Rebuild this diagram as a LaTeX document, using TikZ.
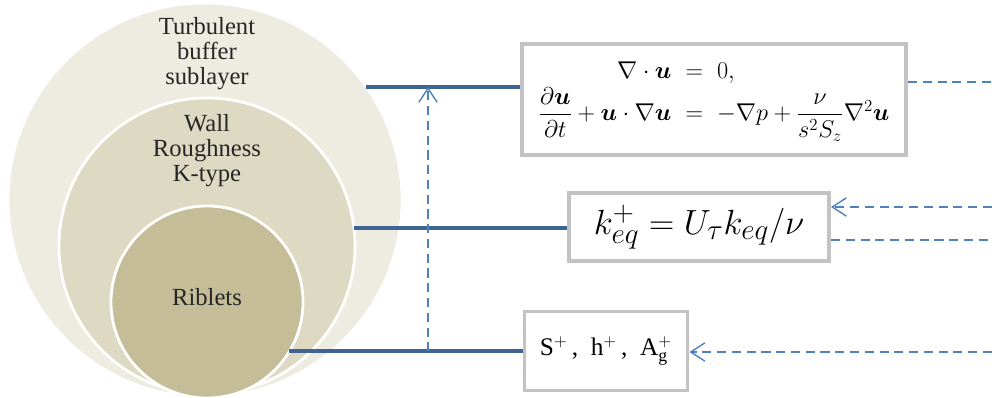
\documentclass[tikz,border=0pt]{standalone}
\usepackage{amsmath}
\usepackage{amssymb}
\usepackage{bm}
\usepackage{fontspec}
\newfontfamily\timesfont{Liberation Serif}
\usetikzlibrary{arrows.meta,positioning,calc}
\usepackage{xcolor}
\definecolor{layerA}{HTML}{EEECE1}
\definecolor{layerB}{HTML}{DDD9C3}
\definecolor{layerC}{HTML}{C4BD97}
\definecolor{linkblue}{HTML}{3E6494}
\definecolor{dashblue}{HTML}{4F81BD}
\definecolor{boxgray}{HTML}{C3C3C3}

\begin{document}
\begin{tikzpicture}[x=0.025cm,y=-0.025cm,
    layer/.style={circle,draw=white,line width=2pt,inner sep=0pt,outer sep=0pt},
    caption/.style={align=center,font=\timesfont\fontsize{17.5}{17.8}\selectfont,text=black!85},
    eqbox/.style={draw=boxgray,line width=2.8pt,fill=white,inner sep=0pt},
    link/.style={linkblue,line width=2.8pt},
    flow/.style={dashblue,line width=1pt,dash pattern=on 6.5pt off 4pt},
    tip/.style={-{Straight Barb[length=10pt,width=13pt]}}]
            \useasboundingbox (0,0) rectangle (992,397);

            % Nested layers
            \node[layer,fill=layerA,minimum size=9.85cm] (outer) at (205,200) {};
            \node[layer,fill=layerB,minimum size=7.4cm] (middle) at (207,246) {};
            \node[layer,fill=layerC,minimum size=4.8cm] (inner) at (207,302) {};

            % Layer names
            \node[caption] (buffer) at (207,54) {Turbulent\\buffer\\sublayer};
            \node[caption] (rough) at (207,151) {Wall\\Roughness\\K-type};
            \node[caption] (riblets) at (207,297) {Riblets};

            % Equation boxes
            \node[eqbox,minimum width=9.6cm,minimum height=2.775cm] (nse) at (714,99.5) {\fontsize{17.28}{21}\selectfont
                $\begin{array}{rcl}
                    \nabla\cdot\bm{u} & = & 0,\\
                    \dfrac{\partial\bm{u}}{\partial t}+\bm{u}\cdot\nabla\bm{u} & = & -\nabla p+\dfrac{\nu}{s^2S_z}\nabla^2\bm{u}
                \end{array}$};
            \node[eqbox,minimum width=6.5cm,minimum height=1.7cm] (keq) at (699,227) {\fontsize{24.88}{28}\selectfont $k_{eq}^{+}=U_{\tau}k_{eq}/\nu$};
            \node[eqbox,minimum width=4.075cm,minimum height=1.975cm] (scales) at (606,351) {\timesfont\fontsize{18}{20}\selectfont S$^{+}$\,,\ \ h$^{+}$\,,\ \ A$^{+}_{\text{g}}$};

            % Links from layers to boxes
            \draw[link] (outer.35.7) -- (outer.35.7 -| nse.west);
            \draw[link] (middle.7) -- (middle.7 -| keq.west);
            \draw[link] (inner.-31.4) -- (inner.-31.4 -| scales.west);

            % Feedback
            \coordinate (split) at (428,0);
            \draw[flow,tip] (split |- inner.-31.4) -- (split |- outer.35.7);

            \coordinate (rim1) at (992,82);
            \coordinate (rim2) at (992,207);
            \coordinate (rim3) at (992,240);
            \coordinate (rim4) at (992,352);
            \draw[flow] (nse.east |- rim1) -- (rim1);
            \draw[flow,tip] (rim2) -- (keq.east |- rim2);
            \draw[flow] (keq.east |- rim3) -- (rim3);
            \draw[flow,tip] (rim4) -- (scales.east |- rim4);
        \end{tikzpicture}
\end{document}
